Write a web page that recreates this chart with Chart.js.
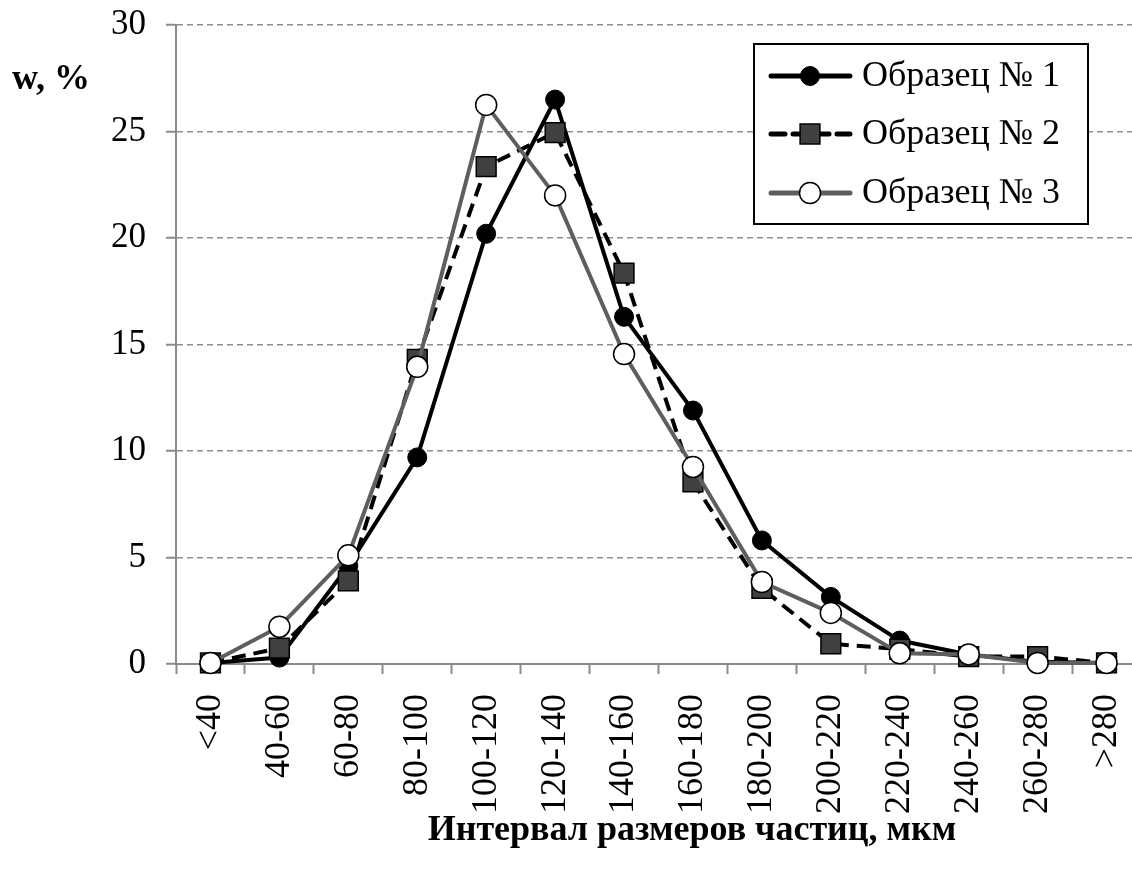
<!DOCTYPE html>
<html><head><meta charset="utf-8">
<script src="https://cdn.jsdelivr.net/npm/chart.js@4/dist/chart.umd.min.js"></script>
<style>html,body{margin:0;padding:0;overflow:hidden;background:#fff}canvas{display:block}</style>
</head><body><canvas id="c" width="1141" height="870" style="width:1141px;height:870px"></canvas>
<script>
const categories = ['<40','40-60','60-80','80-100','100-120','120-140','140-160','160-180','180-200','200-220','220-240','240-260','260-280','>280'];
const sample1 = [0.05, 0.3, 4.6, 9.7, 20.2, 26.5, 16.3, 11.9, 5.8, 3.15, 1.1, 0.45, 0.1, 0.05];
const sample2 = [0.05, 0.75, 3.9, 14.3, 23.35, 24.95, 18.35, 8.55, 3.55, 0.95, 0.7, 0.35, 0.35, 0.05];
const sample3 = [0.05, 1.75, 5.1, 13.95, 26.25, 22.0, 14.55, 9.25, 3.85, 2.4, 0.5, 0.45, 0.05, 0.05];
const seriesNames = ['Образец № 1','Образец № 2','Образец № 3'];
const yTicks = [0, 5, 10, 15, 20, 25, 30];
const yTitle = 'w, %';
const xTitle = 'Интервал размеров частиц, мкм';

const FONT = '"Liberation Serif", "Times New Roman", serif';

const datasets = [
  {label: seriesNames[0], data: sample1, borderColor:'#000', backgroundColor:'#000', borderWidth:4,
   pointStyle:'circle', pointRadius:9.5, pointBackgroundColor:'#000', pointBorderColor:'#000', pointBorderWidth:1, order:3},
  {label: seriesNames[1], data: sample2, borderColor:'#000', backgroundColor:'#404040', borderWidth:4, borderDash:[14,8],
   pointStyle:'rect', pointRadius:14, pointBackgroundColor:'#404040', pointBorderColor:'#000', pointBorderWidth:1.5, order:2},
  {label: seriesNames[2], data: sample3, borderColor:'#5e5e5e', backgroundColor:'#fff', borderWidth:4,
   pointStyle:'circle', pointRadius:10.5, pointBackgroundColor:'#fff', pointBorderColor:'#000', pointBorderWidth:1.5, order:1}
];
datasets.forEach(d => { d.tension = 0; d.fill = false; d.pointHoverRadius = d.pointRadius; d.clip = false; });

const extras = {
  id: 'extras',
  afterDraw(chart) {
    const ctx = chart.ctx;
    ctx.save();
    ctx.fillStyle = '#000';
    ctx.textBaseline = 'middle';
    ctx.textAlign = 'left';
    ctx.font = 'bold 36px ' + FONT;
    ctx.fillText(yTitle, 12, 80);
    ctx.textAlign = 'center';
    ctx.fillText(xTitle, 692, 831);
    // legend
    const bx = 754, by = 44, bw = 334, bh = 180;
    ctx.fillStyle = '#fff';
    ctx.fillRect(bx, by, bw, bh);
    ctx.strokeStyle = '#000';
    ctx.lineWidth = 2;
    ctx.strokeRect(bx, by, bw, bh);
    const rows = [76, 134, 193];
    chart.data.datasets.forEach((ds, i) => {
      const y = rows[i];
      ctx.save();
      ctx.strokeStyle = ds.borderColor;
      ctx.lineWidth = ds.borderWidth + 1;
      ctx.setLineDash(ds.borderDash || []);
      ctx.lineCap = 'round';
      ctx.beginPath(); ctx.moveTo(771, y); ctx.lineTo(850, y); ctx.stroke();
      ctx.restore();
      ctx.save();
      ctx.fillStyle = ds.pointBackgroundColor;
      ctx.strokeStyle = ds.pointBorderColor;
      ctx.lineWidth = ds.pointBorderWidth;
      Chart.helpers.drawPoint(ctx, {pointStyle: ds.pointStyle, radius: ds.pointRadius, rotation: 0, borderWidth: ds.pointBorderWidth}, 810, y);
      ctx.restore();
      ctx.fillStyle = '#000';
      ctx.font = '36px ' + FONT;
      ctx.textBaseline = 'middle';
      ctx.textAlign = 'left';
      ctx.fillText(ds.label, 862, y + 1);
    });
    ctx.restore();
  }
};

new Chart(document.getElementById('c'), {
  type: 'line',
  data: {labels: categories, datasets},
  options: {
    responsive: false,
    maintainAspectRatio: false,
    animation: false,
    devicePixelRatio: 1,
    layout: {autoPadding: false, padding: {top: 25, left: 0, right: 0, bottom: 0}},
    plugins: {legend: {display: false}, tooltip: {enabled: false}},
    scales: {
      x: {
        type: 'category',
        offset: true,
        grid: {offset: true, drawOnChartArea: false, drawTicks: true, tickLength: 10, tickColor: '#8a8a8a', tickWidth: 2},
        border: {display: true, color: '#8a8a8a', width: 2},
        ticks: {color: '#000', font: {family: FONT, size: 36}, minRotation: 90, maxRotation: 90, padding: 20, autoSkip: false},
        title: {display: false},
        afterFit(scale) { scale.height = 206; scale.paddingLeft = 0; scale.paddingRight = 0; }
      },
      y: {
        min: 0, max: 30,
        afterBuildTicks(scale) { scale.ticks = yTicks.map(v => ({value: v})); },
        grid: {color: '#8f8f8f', lineWidth: 1.5, drawTicks: true, tickLength: 10, tickColor: '#8a8a8a', tickWidth: 2},
        border: {display: true, color: '#8a8a8a', width: 2, dash: [6, 4]},
        ticks: {color: '#000', font: {family: FONT, size: 35}, padding: 20},
        afterFit(scale) { scale.width = 176; scale.paddingTop = 0; scale.paddingBottom = 0; }
      }
    }
  },
  plugins: [extras]
});
</script>
</body></html>
